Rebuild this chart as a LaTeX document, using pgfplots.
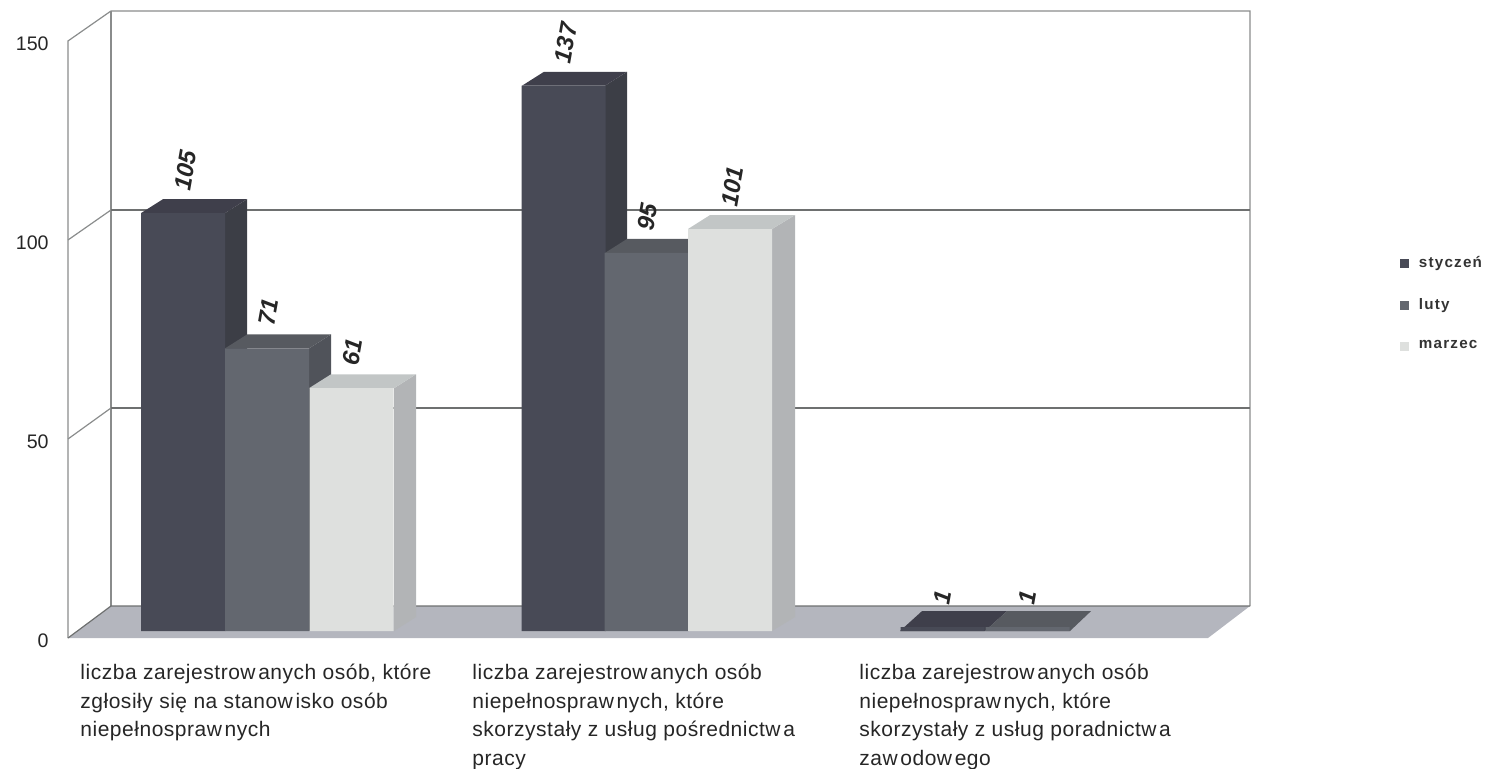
\documentclass[border=0pt]{standalone}
\usepackage{fontspec}
\setmainfont{Liberation Sans}
\usepackage{pgfplots}
\pgfplotsset{compat=1.18}
\definecolor{ca}{HTML}{484A56}\definecolor{cas}{HTML}{3C3E46}\definecolor{cat}{HTML}{3F3F4B}
\definecolor{cb}{HTML}{63676F}\definecolor{cbs}{HTML}{50535A}\definecolor{cbt}{HTML}{575A60}
\definecolor{cc}{HTML}{DEE0DE}\definecolor{ccs}{HTML}{B2B4B6}\definecolor{cct}{HTML}{C2C6C6}
\definecolor{floor}{HTML}{B4B6BE}\definecolor{wall}{HTML}{8A8C8C}\definecolor{grid}{HTML}{6E7070}
\newcommand\W{w\kern1.3pt}
\pgfplotsset{
  front/.style={ybar,bar width=84,bar shift=0pt,draw=none,fill=#1,
    legend image code/.code={\fill[##1,draw=none] (0pt,-2.2pt) rectangle (4.4pt,2.2pt);\path (7.5pt,0pt);},
    nodes near coords,
    every node near coord/.append style={rotate=80,anchor=west,xshift=11pt,yshift=2.5pt,inner sep=0pt,
      font=\fontsize{12}{14}\selectfont\bfseries\itshape,text=black!85,
      /pgf/number format/assume math mode=true}},
  face/.style={fill=#1,draw=none,forget plot},
  line/.style={draw=#1,line width=0.6pt,forget plot,no marks}
}
\begin{document}
\begin{tikzpicture}
\begin{axis}[
  width=743pt,height=384.5pt,scale only axis,
  xmin=0,xmax=1486,ymin=-34.67,ymax=158.54,
  /pgf/number format/assume math mode=true,
  axis line style={draw=none},tick style={draw=none},clip=false,
  ytick={-1.76,48.24,98.24,148.24},yticklabels={0,50,100,150},
  yticklabel style={anchor=east,xshift=24.5pt,yshift=-1.5pt,inner sep=0pt,font=\fontsize{9.8}{12}\selectfont,text=black!85},
  xtick={80,472,859},
  xticklabels={
    {liczba zarejestro\W anych osób, które\\zgłosiły się na stano\W isko osób\\niepełnospra\W nych},
    {liczba zarejestro\W anych osób\\niepełnospra\W nych, które\\skorzystały z usług pośrednict\W a\\pracy},
    {liczba zarejestro\W anych osób\\niepełnospra\W nych, które\\skorzystały z usług poradnict\W a\\za\W odo\W ego}},
  xticklabel style={anchor=north west,align=left,inner sep=0pt,yshift=52.6pt,
    font=\fontsize{10.5}{14.3}\selectfont\addfontfeatures{LetterSpace=2.5},text=black!85},
  legend style={draw=none,fill=none,at={(axis cs:1399.5,95.3)},anchor=north west,inner sep=0pt,
    font=\fontsize{7.6}{8.5}\selectfont\bfseries\addfontfeatures{LetterSpace=8},
    row sep=10.1pt,text=black!80},
  legend cell align=left,
]
% floor and walls
\addplot[face=floor] coordinates {(111,6.28)(1250,6.28)(1208,-1.76)(68,-1.76)} --cycle;
\addplot[line=wall] coordinates {(68,-1.76)(68,148.24)(111,155.78)(1250,155.78)(1250,6.28)};
\addplot[line=wall] coordinates {(111,155.78)(111,6.28)};
\addplot[line=grid] coordinates {(68,-1.76)(111,6.28)(1250,6.28)};
\addplot[line=wall] coordinates {(68,48.24)(111,56.03)};
\addplot[line=grid] coordinates {(111,56.03)(1250,56.03)};
\addplot[line=wall] coordinates {(68,98.24)(111,105.78)};
\addplot[line=grid] coordinates {(111,105.78)(1250,105.78)};
% styczen
\addplot[face=cas] coordinates {(225,0)(247,3.5)(247,108.5)(225,105)} --cycle;
\addplot[face=cat] coordinates {(141,105)(163,108.5)(247,108.5)(225,105)} --cycle;
\addplot[face=cas] coordinates {(605,0)(627,3.5)(627,140.5)(605,137)} --cycle;
\addplot[face=cat] coordinates {(522,137)(544,140.5)(627,140.5)(605,137)} --cycle;
\addplot[face=cat] coordinates {(900,0)(922,5)(1007,5)(985,0)} --cycle;
\addplot[front=ca] coordinates {(183,105)(563.5,137)(942.5,1)};
\addlegendentry{styczeń}
% luty
\addplot[face=cbs] coordinates {(309,0)(331,3.5)(331,74.5)(309,71)} --cycle;
\addplot[face=cbt] coordinates {(225,71)(247,74.5)(331,74.5)(309,71)} --cycle;
\addplot[face=cbs] coordinates {(688,0)(710,3.5)(710,98.5)(688,95)} --cycle;
\addplot[face=cbt] coordinates {(605,95)(627,98.5)(710,98.5)(688,95)} --cycle;
\addplot[face=cbt] coordinates {(985,0)(1007,5)(1091,5)(1070,0)} --cycle;
\addplot[front=cb] coordinates {(267,71)(646.5,95)(1027.5,1)};
\addlegendentry{luty}
% marzec
\addplot[face=ccs] coordinates {(394,0)(416,3.5)(416,64.5)(394,61)} --cycle;
\addplot[face=cct] coordinates {(309,61)(331,64.5)(416,64.5)(394,61)} --cycle;
\addplot[face=ccs] coordinates {(772,0)(795,3.5)(795,104.5)(772,101)} --cycle;
\addplot[face=cct] coordinates {(688,101)(710,104.5)(795,104.5)(772,101)} --cycle;
\addplot[front=cc] coordinates {(351.5,61)(730,101)};
\addlegendentry{marzec}
\end{axis}
\pgfresetboundingbox
\path[use as bounding box] (0,0) rectangle (743pt,384.5pt);
\end{tikzpicture}
\end{document}
